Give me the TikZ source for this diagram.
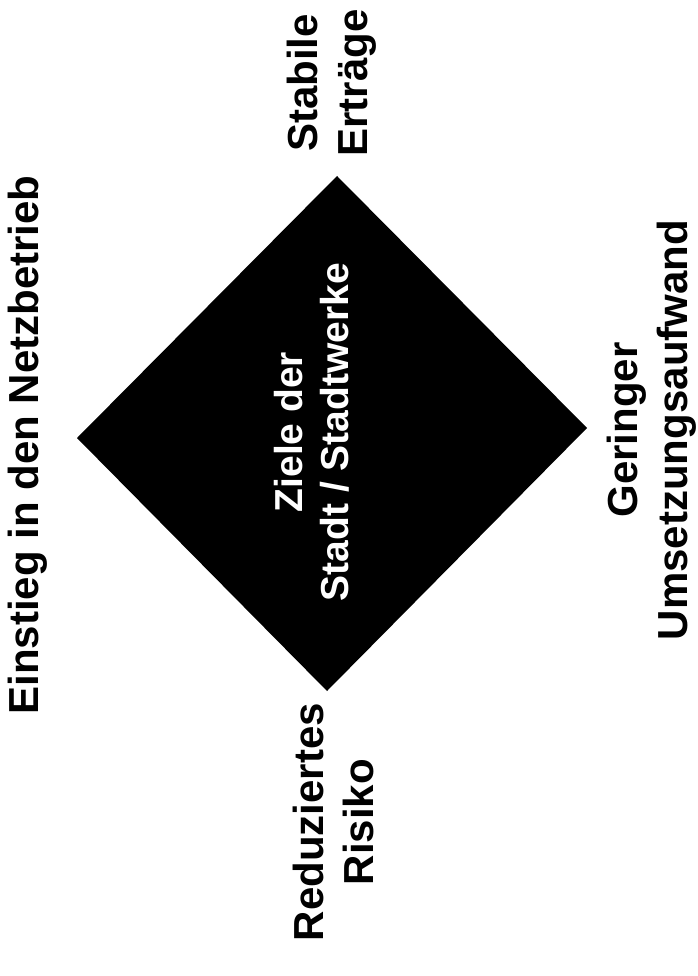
\documentclass[tikz,border=0pt]{standalone}
\usepackage{fontspec}
\setmainfont{Liberation Sans}
\begin{document}
\begin{tikzpicture}[x=1pt,y=-1pt,
  lbl/.style={rotate=90, align=center, inner sep=0pt, font=\bfseries\fontsize{42}{50}\selectfont},
  inlbl/.style={rotate=90, align=center, inner sep=0pt, text=white, font=\bfseries\fontsize{39}{46}\selectfont}]
\useasboundingbox (0,0) rectangle (697,976);
\coordinate (T) at (337,176);
\coordinate (L) at (77,438);
\coordinate (B) at (327,691);
\coordinate (R) at (587,428);
\fill[black] (T) -- (L) -- (B) -- (R) -- cycle;
\node[inlbl] (ziel) at (312,432) {Ziele der\\Stadt / Stadtwerke};
\node[lbl] (einstieg) at (28,445) {Einstieg in den Netzbetrieb};
\node[lbl] (stabil) at (332,83) {Stabile\\Erträge};
\node[lbl] (risiko) at (333,822) {Reduziertes\\Risiko};
\node[lbl] (gering) at (652,430) {Geringer\\Umsetzungsaufwand};
\end{tikzpicture}
\end{document}
